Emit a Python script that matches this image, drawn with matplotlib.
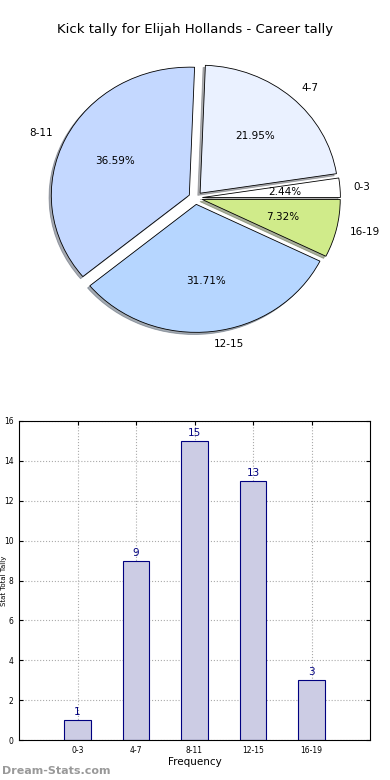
# Kick tally for Elijah Hollands - pie + bar chart

import matplotlib
matplotlib.use("Agg")
import matplotlib.pyplot as plt

# Data
labels = ["0-3", "4-7", "8-11", "12-15", "16-19"]
tally = [1, 9, 15, 13, 3]
pie_colors = ["#ffffff", "#eaf1ff", "#c4d8ff", "#b6d6ff", "#d0eb8a"]
explode = [0.05, 0.05, 0.05, 0.05, 0.05]

fig = plt.figure(figsize=(3.9, 7.8), dpi=100)

# Pie chart
ax1 = fig.add_axes([23 / 390, 1 - 358 / 780, 345 / 390, 320 / 780])
wedges, texts, autotexts = ax1.pie(
    tally, labels=labels, colors=pie_colors, explode=explode,
    autopct="%.2f%%", startangle=0,
    shadow={"ox": -0.012, "oy": -0.012, "shade": 0.6},
    wedgeprops={"edgecolor": "black", "linewidth": 0.6},
    textprops={"fontsize": 7.5},
)
ax1.set_aspect("auto")
ax1.set_xlim(-1.25, 1.25)
ax1.set_ylim(-1.25, 1.25)
fig.text(0.5, 1 - 30 / 780, "Kick tally for Elijah Hollands - Career tally",
         ha="center", va="center", fontsize=9.5)

# Bar chart
ax2 = fig.add_axes([19 / 390, 1 - 740 / 780, 351 / 390, 319 / 780])
x = list(range(len(labels)))
bars = ax2.bar(x, tally, width=0.45, color="#ccccE4", edgecolor="navy",
               linewidth=0.8, zorder=2)
for xi, v in zip(x, tally):
    ax2.text(xi, v + 0.15, str(v), ha="center", va="bottom",
             color="navy", fontsize=7.5)

ax2.set_xlim(-1, 5)
ax2.set_ylim(0, 16)
ax2.set_xticks(x)
ax2.set_xticklabels(labels)
ax2.set_yticks(range(0, 17, 2))
ax2.tick_params(direction="in", labelsize=5.5, top=True, right=True,
                length=3, pad=4)
ax2.grid(True, linestyle=":", color="#aaaaaa", linewidth=0.8)
ax2.set_axisbelow(True)
ax2.set_xlabel("Frequency", fontsize=7.5, labelpad=2)
ax2.set_ylabel("Stat Total Tally", fontsize=5)
ax2.yaxis.set_label_coords(-0.033, 0.5)

fig.text(2 / 390, 1 - 771 / 780, "Dream-Stats.com", fontsize=8,
         color="#999999", fontweight="bold", va="center")

fig.savefig("out.png", dpi=100)
